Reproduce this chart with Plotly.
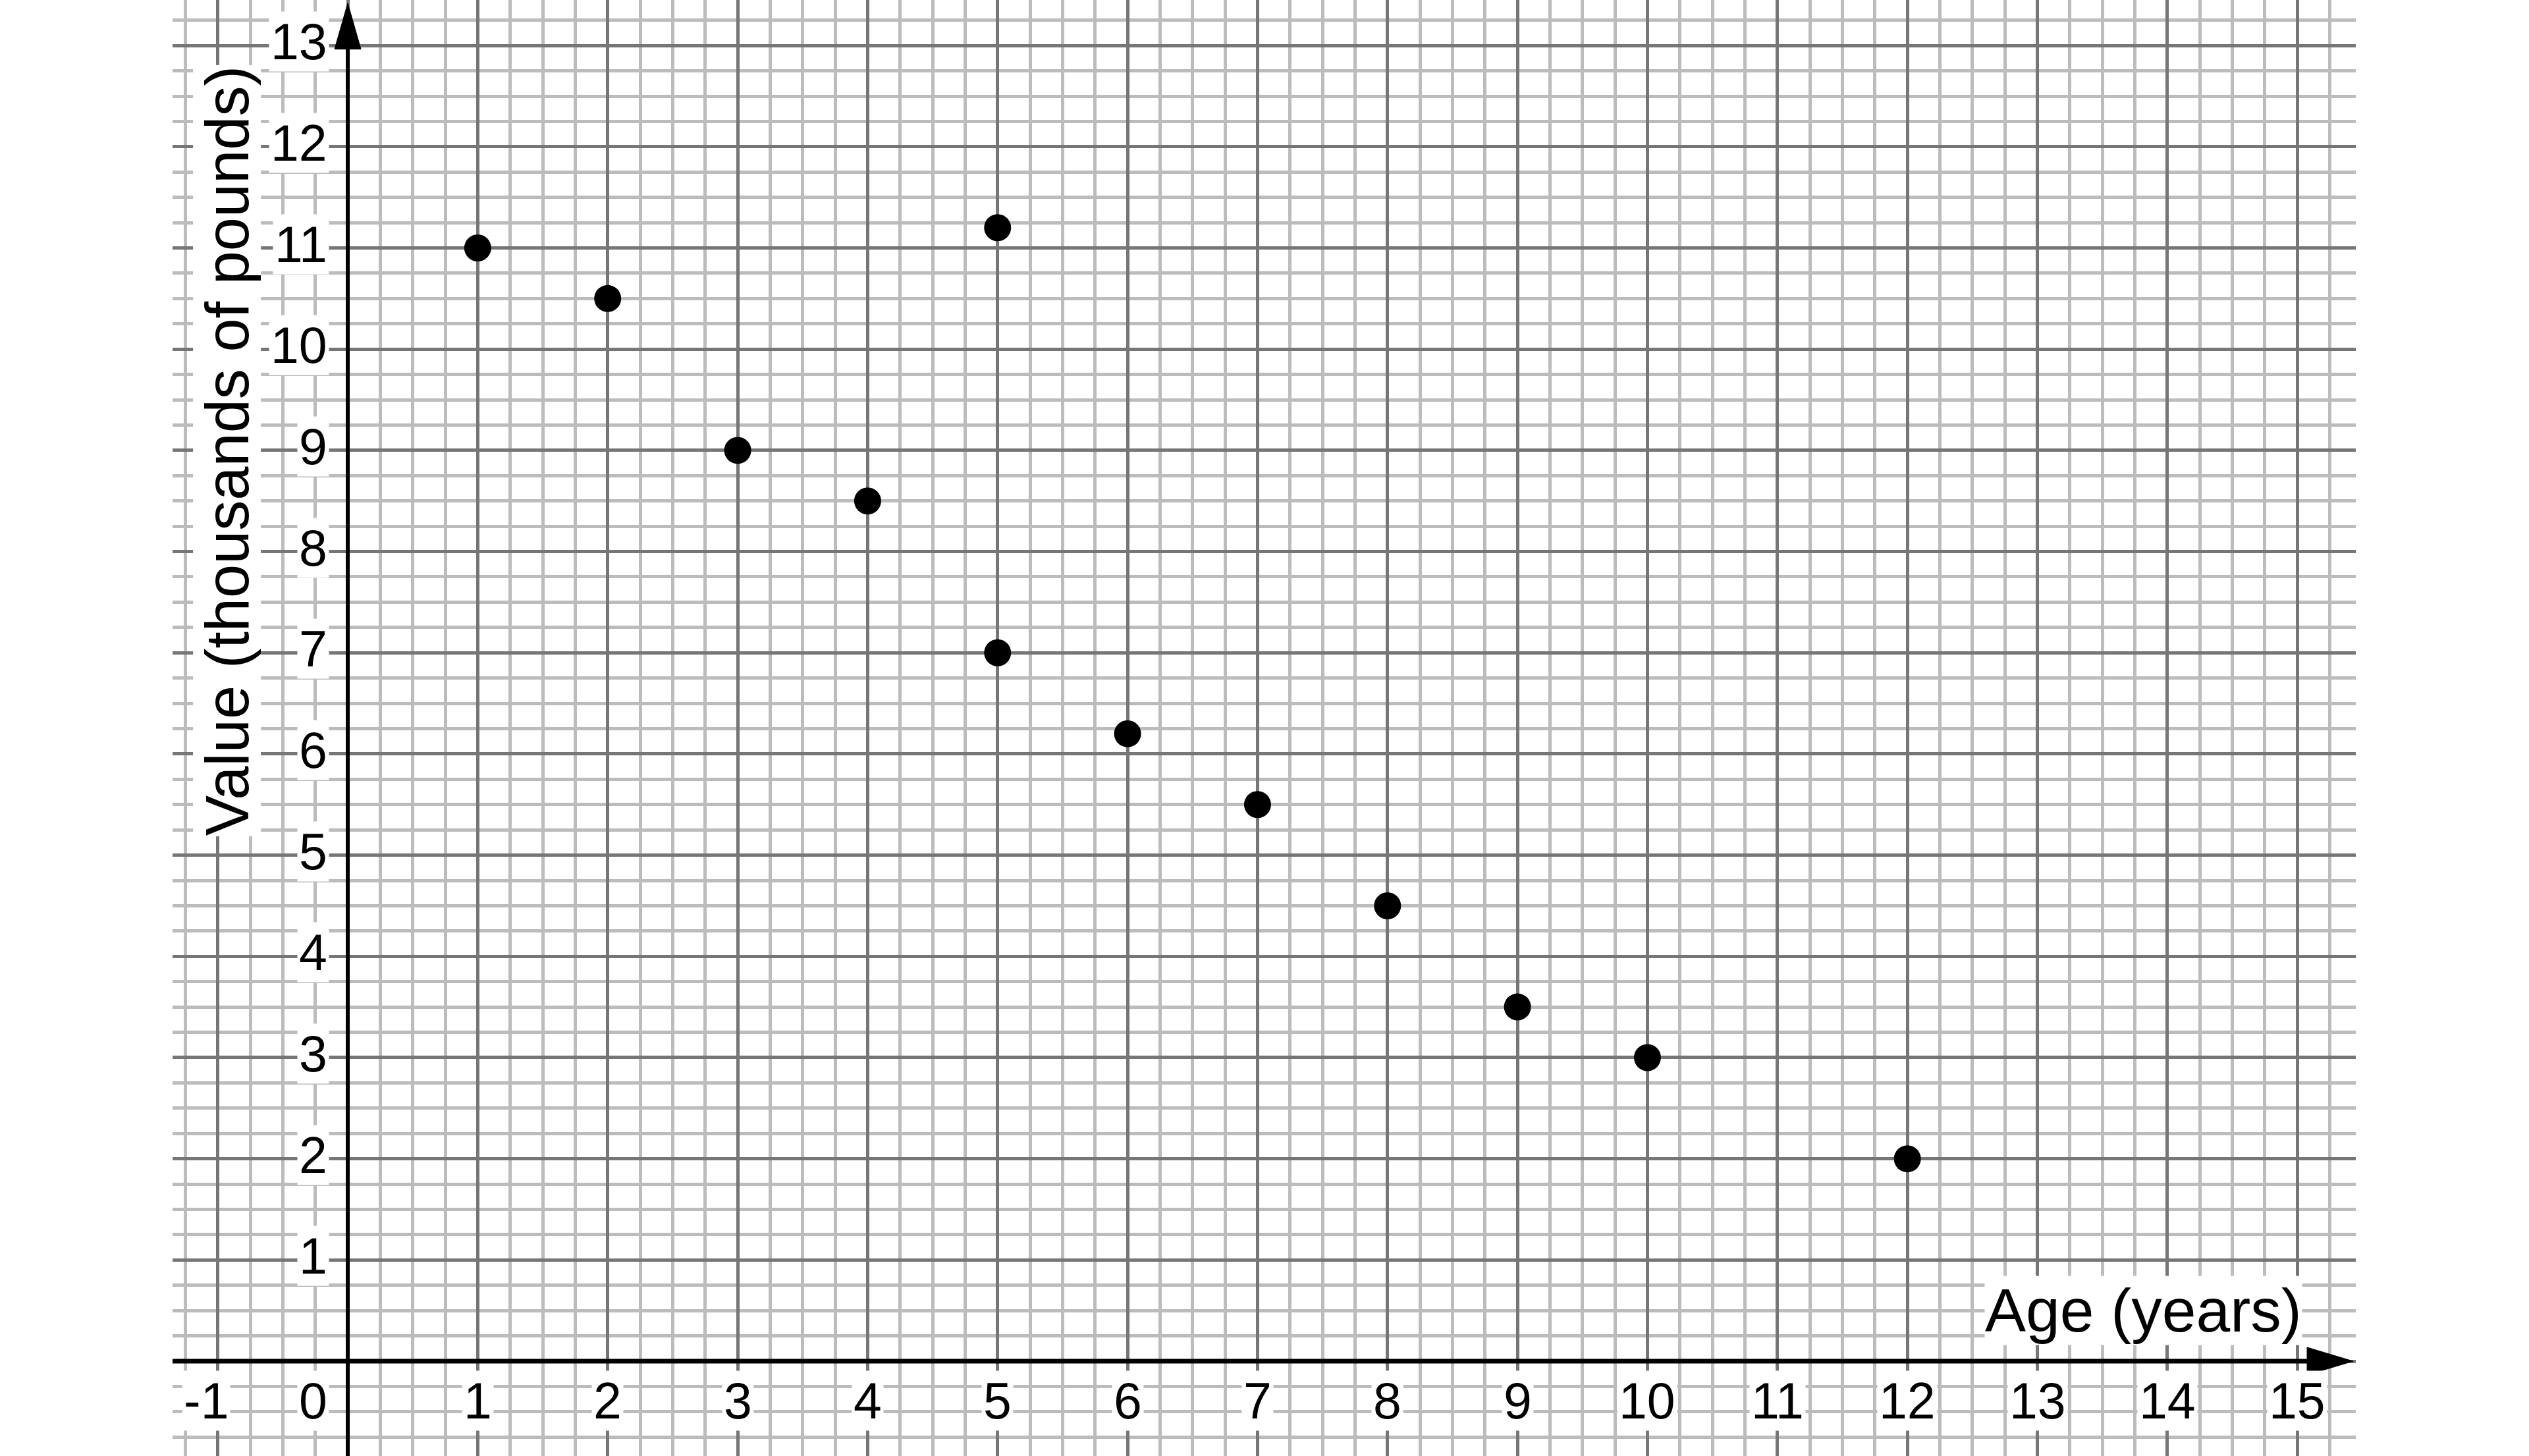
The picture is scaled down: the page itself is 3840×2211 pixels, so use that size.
import plotly.graph_objects as go

# ---- data ----
ages = [1, 2, 3, 4, 5, 5, 6, 7, 8, 9, 10, 12]
values = [11, 10.5, 9, 8.5, 11.2, 7, 6.2, 5.5, 4.5, 3.5, 3, 2]

x_tick_values = [-1, 0, 1, 2, 3, 4, 5, 6, 7, 8, 9, 10, 11, 12, 13, 14, 15]
x_tick_labels = ["-1", "0", "1", "2", "3", "4", "5", "6", "7", "8", "9",
                 "10", "11", "12", "13", "14", "15"]
y_tick_values = [1, 2, 3, 4, 5, 6, 7, 8, 9, 10, 11, 12, 13]
y_tick_labels = ["1", "2", "3", "4", "5", "6", "7", "8", "9", "10", "11", "12", "13"]

x_title = "Age (years)"
y_title = "Value (thousands of pounds)"

# ---- layout constants ----
X_RANGE = [-1.348, 15.45]
Y_RANGE = [-0.937, 13.45]
FONT = "Liberation Sans, Arial, sans-serif"
MAJOR = "#767676"
MINOR = "#bcbcbc"

fig = go.Figure()
fig.add_trace(go.Scatter(
    x=ages, y=values, mode="markers",
    marker=dict(size=41, color="black", line=dict(width=0)),
    showlegend=False, hoverinfo="skip", cliponaxis=False,
))

axis_common = dict(
    showgrid=True, gridcolor=MAJOR, gridwidth=5, dtick=1, tick0=0,
    minor=dict(dtick=0.25, tick0=0, showgrid=True, gridcolor=MINOR, gridwidth=4.5),
    zeroline=False, showticklabels=False, ticks="", showline=False,
    fixedrange=True,
)
fig.update_xaxes(range=X_RANGE, **axis_common)
fig.update_yaxes(range=Y_RANGE, **axis_common)

# axes lines with arrows
y_tip = 13.42
x_tip = 15.43
fig.add_shape(type="line", xref="x", yref="y", x0=0, x1=0, y0=Y_RANGE[0], y1=y_tip - 0.4,
              line=dict(color="black", width=6))
fig.add_shape(type="line", xref="x", yref="y", x0=X_RANGE[0], x1=x_tip - 0.3, y0=0, y1=0,
              line=dict(color="black", width=7))
fig.add_shape(type="path", xref="x", yref="y", xsizemode="pixel", ysizemode="pixel",
              xanchor=0, yanchor=y_tip, path="M0,0 L-20,-70 L20,-70 Z",
              fillcolor="black", line=dict(color="black", width=1))
fig.add_shape(type="path", xref="x", yref="y", xsizemode="pixel", ysizemode="pixel",
              xanchor=x_tip, yanchor=0, path="M0,0 L-70,21 L-70,-21 Z",
              fillcolor="black", line=dict(color="black", width=1))

TICK_FONT = dict(family=FONT, size=77, color="black")
annotations = []
for v, t in zip(x_tick_values, x_tick_labels):
    if v == 0:
        annotations.append(dict(x=v, y=0, xref="x", yref="y", text=t, showarrow=False,
                                xanchor="right", yanchor="middle", xshift=-28, yshift=-60,
                                font=TICK_FONT, bgcolor="white", borderpad=2))
    else:
        annotations.append(dict(x=v, y=0, xref="x", yref="y", text=t, showarrow=False,
                                xanchor="center", yanchor="middle",
                                xshift=-18 if v < 0 else 0, yshift=-60,
                                font=TICK_FONT, bgcolor="white", borderpad=2))
for v, t in zip(y_tick_values, y_tick_labels):
    annotations.append(dict(x=0, y=v, xref="x", yref="y", text=t, showarrow=False,
                            xanchor="right", yanchor="middle", xshift=-28, yshift=6,
                            font=TICK_FONT, bgcolor="white", borderpad=2))

annotations.append(dict(x=15.04, y=0.5, xref="x", yref="y", text=x_title, showarrow=False,
                        xanchor="right", yanchor="middle",
                        font=dict(family=FONT, size=93, color="black"),
                        bgcolor="white", borderpad=0))
annotations.append(dict(x=-0.93, y=9.0, xref="x", yref="y", text=y_title, showarrow=False,
                        textangle=-90, xanchor="center", yanchor="middle",
                        font=dict(family=FONT, size=92, color="black"),
                        bgcolor="white", borderpad=0))

fig.update_layout(
    width=3840, height=2211,
    margin=dict(l=262, r=263, t=0, b=0, pad=0),
    paper_bgcolor="white", plot_bgcolor="white",
    annotations=annotations,
    showlegend=False,
    font=dict(family=FONT),
)

fig.write_html("out.html", config={"displayModeBar": False},
               post_script="document.body.style.margin='0';document.body.style.overflow='hidden';")
